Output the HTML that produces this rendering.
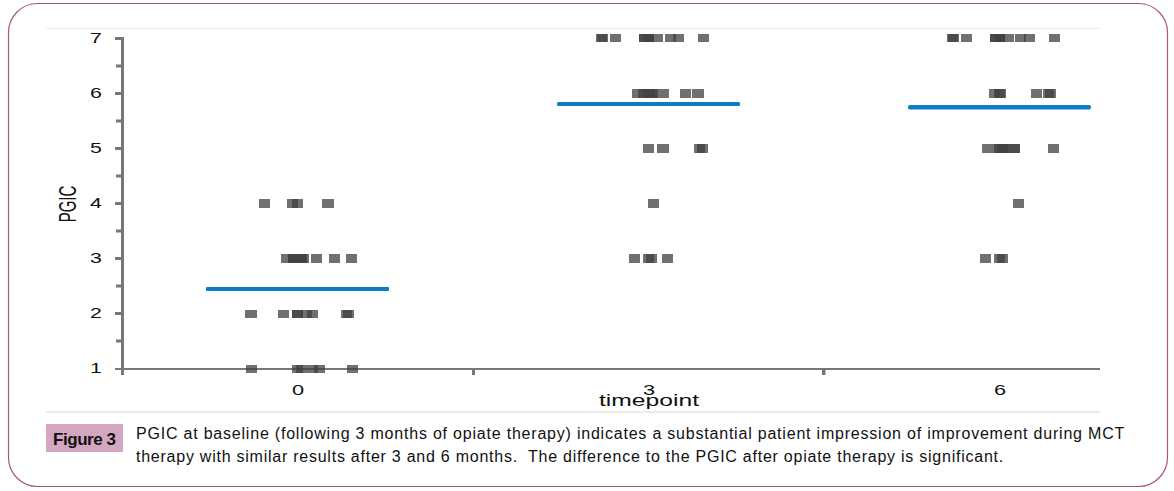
<!DOCTYPE html>
<html><head><meta charset="utf-8">
<style>
html,body{margin:0;padding:0;background:#fff;}
body{width:1174px;height:491px;position:relative;overflow:hidden;font-family:"Liberation Sans",sans-serif;}
svg{position:absolute;left:0;top:0;}
.yl{position:absolute;left:86px;margin-top:-0.5px;width:20px;text-align:center;font-size:15px;line-height:18px;color:#111;transform:scaleX(1.42);}
.xl{position:absolute;top:380.5px;width:20px;text-align:center;font-size:15px;line-height:18px;color:#111;transform:scaleX(1.45);}
.xt{position:absolute;left:599px;top:390.5px;width:100px;text-align:center;font-size:17px;line-height:20px;color:#111;transform:scaleX(1.45);}
.yt{position:absolute;left:29.5px;top:194px;width:76px;height:20px;text-align:center;font-size:15px;line-height:20px;color:#111;transform:rotate(-90deg) scaleY(1.56);}
.badge{position:absolute;left:46px;top:424px;width:77px;height:28px;background:#d3a6c1;}
.badge span{position:absolute;left:7px;top:7px;font-weight:bold;font-size:17px;letter-spacing:-0.45px;line-height:18px;color:#111;white-space:nowrap;}
.cap{position:absolute;left:136px;font-size:16px;letter-spacing:0.79px;line-height:18px;color:#111;white-space:nowrap;}
</style></head><body>
<svg width="1174" height="491" viewBox="0 0 1174 491">
<rect x="8.5" y="3.5" width="1159" height="483" rx="29" ry="29" fill="none" stroke="#a95588" stroke-width="1.2"/>
<rect x="46" y="28" width="1054" height="1" fill="#ececec"/>
<rect x="46" y="411" width="1054" height="2" fill="#ececec"/>
<g fill="#777">
<rect x="121" y="37" width="3" height="338"/>
<rect x="115" y="368" width="985" height="2"/>
<rect x="472" y="370" width="3" height="5"/>
<rect x="822" y="370" width="3.5" height="5"/>
<rect x="115" y="312.0" width="6" height="3"/>
<rect x="115" y="257.0" width="6" height="3"/>
<rect x="115" y="202.0" width="6" height="3"/>
<rect x="115" y="147.0" width="6" height="3"/>
<rect x="115" y="92.0" width="6" height="3"/>
<rect x="115" y="37.0" width="6" height="3"/>
<rect x="116" y="339.5" width="5" height="3"/>
<rect x="116" y="284.5" width="5" height="3"/>
<rect x="116" y="229.5" width="5" height="3"/>
<rect x="116" y="174.5" width="5" height="3"/>
<rect x="116" y="119.5" width="5" height="3"/>
<rect x="116" y="64.5" width="5" height="3"/>
</g>
<g fill="#404040" fill-opacity="0.75">
<rect x="259" y="199" width="11" height="9"/>
<rect x="287" y="199" width="11" height="9"/>
<rect x="292" y="199" width="11" height="9"/>
<rect x="322" y="199" width="12" height="9"/>
<rect x="281" y="254" width="11" height="9"/>
<rect x="288" y="254" width="19" height="9"/>
<rect x="288" y="254" width="19" height="9"/>
<rect x="292" y="254" width="17" height="9"/>
<rect x="311" y="254" width="11" height="9"/>
<rect x="329" y="254" width="11" height="9"/>
<rect x="346" y="254" width="11" height="9"/>
<rect x="245" y="310" width="12" height="8"/>
<rect x="278" y="310" width="11" height="8"/>
<rect x="292" y="310" width="11" height="8"/>
<rect x="292" y="310" width="11" height="8"/>
<rect x="301" y="310" width="11" height="8"/>
<rect x="307" y="310" width="11" height="8"/>
<rect x="341" y="310" width="11" height="8"/>
<rect x="343" y="310" width="11" height="8"/>
<rect x="246" y="365" width="11" height="8"/>
<rect x="292" y="365" width="11" height="8"/>
<rect x="296" y="365" width="11" height="8"/>
<rect x="307" y="365" width="11" height="8"/>
<rect x="314" y="365" width="11" height="8"/>
<rect x="347" y="365" width="11" height="8"/>
<rect x="596" y="34" width="11" height="8"/>
<rect x="597" y="34" width="11" height="8"/>
<rect x="610" y="34" width="11" height="8"/>
<rect x="639" y="34" width="15" height="8"/>
<rect x="639" y="34" width="15" height="8"/>
<rect x="643" y="34" width="11" height="8"/>
<rect x="652" y="34" width="11" height="8"/>
<rect x="665" y="34" width="11" height="8"/>
<rect x="673" y="34" width="11" height="8"/>
<rect x="698" y="34" width="11" height="8"/>
<rect x="632" y="89" width="11" height="9"/>
<rect x="638" y="89" width="20" height="9"/>
<rect x="643" y="89" width="15" height="9"/>
<rect x="643" y="89" width="12" height="9"/>
<rect x="658" y="89" width="11" height="9"/>
<rect x="680" y="89" width="11" height="9"/>
<rect x="692" y="89" width="12" height="9"/>
<rect x="643" y="144" width="11" height="9"/>
<rect x="657" y="144" width="12" height="9"/>
<rect x="694" y="144" width="11" height="9"/>
<rect x="697" y="144" width="11" height="9"/>
<rect x="648" y="199" width="11" height="9"/>
<rect x="629" y="254" width="11" height="9"/>
<rect x="643" y="254" width="11" height="9"/>
<rect x="646" y="254" width="11" height="9"/>
<rect x="662" y="254" width="11" height="9"/>
<rect x="947" y="34" width="11" height="8"/>
<rect x="948" y="34" width="11" height="8"/>
<rect x="961" y="34" width="11" height="8"/>
<rect x="990" y="34" width="15" height="8"/>
<rect x="990" y="34" width="15" height="8"/>
<rect x="994" y="34" width="11" height="8"/>
<rect x="1003" y="34" width="11" height="8"/>
<rect x="1015" y="34" width="11" height="8"/>
<rect x="1024" y="34" width="11" height="8"/>
<rect x="1049" y="34" width="11" height="8"/>
<rect x="989" y="89" width="11" height="9"/>
<rect x="994" y="89" width="11" height="9"/>
<rect x="995" y="89" width="11" height="9"/>
<rect x="1031" y="89" width="11" height="9"/>
<rect x="1043" y="89" width="11" height="9"/>
<rect x="1045" y="89" width="11" height="9"/>
<rect x="982" y="144" width="12" height="9"/>
<rect x="994" y="144" width="16" height="9"/>
<rect x="994" y="144" width="16" height="9"/>
<rect x="997" y="144" width="11" height="9"/>
<rect x="1010" y="144" width="10" height="9"/>
<rect x="1010" y="144" width="10" height="9"/>
<rect x="1048" y="144" width="11" height="9"/>
<rect x="1013" y="199" width="11" height="9"/>
<rect x="980" y="254" width="11" height="9"/>
<rect x="994" y="254" width="11" height="9"/>
<rect x="997" y="254" width="11" height="9"/>
</g>
<g fill="#0c7dc4">
<rect x="206" y="287" width="183" height="4" rx="1"/>
<rect x="557" y="102" width="183" height="4" rx="1.5"/>
<rect x="908" y="105" width="183" height="4.5" rx="2"/>
</g>
</svg>
<div class="yl" style="top:359.5px">1</div>
<div class="yl" style="top:304.5px">2</div>
<div class="yl" style="top:249.5px">3</div>
<div class="yl" style="top:194.5px">4</div>
<div class="yl" style="top:139.5px">5</div>
<div class="yl" style="top:84.5px">6</div>
<div class="yl" style="top:29.5px">7</div>
<div class="xl" style="left:288px">0</div>
<div class="xl" style="left:639px">3</div>
<div class="xl" style="left:990px">6</div>
<div class="xt">timepoint</div>
<div class="yt">PGIC</div>
<div class="badge"><span>Figure 3</span></div>
<div class="cap" id="c1" style="top:425px">PGIC at baseline (following 3 months of opiate therapy) indicates a substantial patient impression of improvement during MCT</div>
<div class="cap" id="c2" style="top:448px;letter-spacing:0.755px">therapy with similar results after 3 and 6 months.&nbsp; The difference to the PGIC after opiate therapy is significant.</div>
</body></html>
